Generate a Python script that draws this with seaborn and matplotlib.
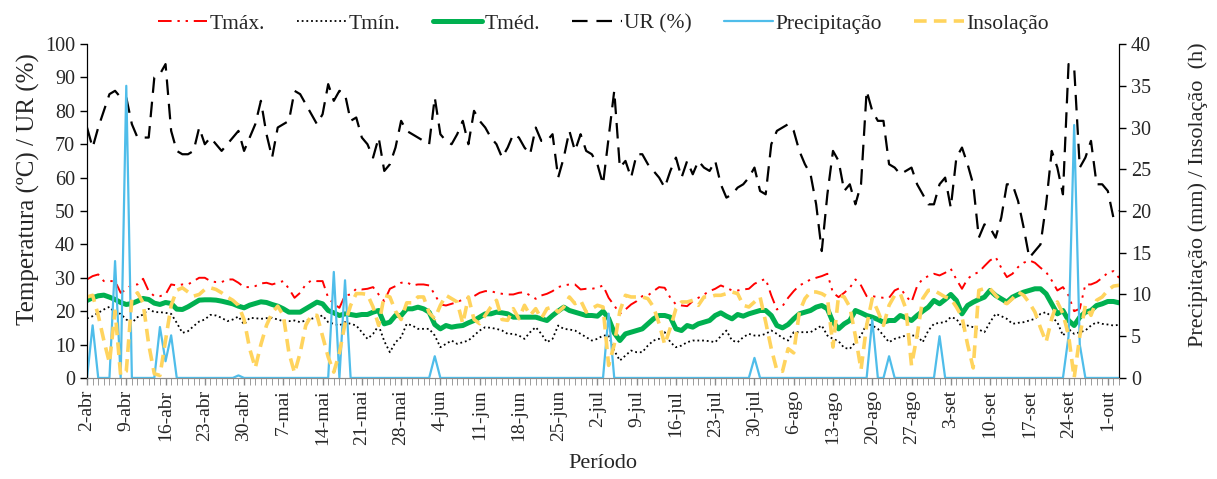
import numpy as np
import pandas as pd
import seaborn as sns
import matplotlib.pyplot as plt

# rótulos do eixo x (um a cada 7 dias, a partir de 2-abr)
tick_labels = ["2-abr", "9-abr", "16-abr", "23-abr", "30-abr", "7-mai", "14-mai",
               "21-mai", "28-mai", "4-jun", "11-jun", "18-jun", "25-jun", "2-jul",
               "9-jul", "16-jul", "23-jul", "30-jul", "6-ago", "13-ago", "20-ago",
               "27-ago", "3-set", "10-set", "17-set", "24-set", "1-out"]

# valores diários (10 por linha, 2-abr a 3-out)
tmax = [29.5, 30.5, 31, 29, 29, 29, 25.5, 26.5, 28, 28,
        29.7, 26, 24.5, 24.5, 25, 28, 27.7, 28, 28, 29,
        30, 30, 29, 28.7, 28.7, 29.5, 29.5, 28.5, 27.2, 27.2,
        27.5, 28.3, 28.5, 28, 28.5, 29, 26.7, 24, 25.5, 28,
        29.2, 29, 29, 24, 22.2, 21, 24.7, 25, 26.7, 26.5,
        26.7, 27.2, 25, 23, 26.7, 27.5, 28.5, 28.7, 27.7, 28,
        28, 27.7, 25, 22, 21.7, 22.2, 22.7, 23.5, 24, 24.5,
        25.5, 26, 26, 25.5, 25.2, 25, 25, 25.5, 25.7, 24.7,
        23.7, 24.7, 25.2, 26, 27.2, 27.7, 28, 28, 26.5, 26.7,
        26.7, 27, 27.7, 24, 21.7, 19.2, 20.5, 22, 23, 24.5,
        24.7, 26, 27.2, 27, 24, 22, 21.7, 21.5, 23, 24,
        25, 26, 26.7, 27.7, 27, 26.2, 26.2, 26.5, 26.7, 28.2,
        29, 29.7, 24.7, 20.5, 21.5, 24, 26, 27.7, 28.5, 29.5,
        30, 30.5, 31.2, 25.5, 24.2, 25.5, 27, 29.5, 27.7, 24.5,
        24.5, 24.2, 24, 24, 26.2, 27, 24.5, 22.7, 27.5, 29.7,
        30.5, 31.2, 30.7, 31.5, 32.7, 29.5, 26.7, 29.7, 31, 31.7,
        33.5, 35.2, 36.2, 33, 30.2, 31.2, 33.2, 34.5, 35.2, 34.5,
        33, 31.7, 29.2, 26.2, 27.2, 24.7, 20, 20.7, 28, 28,
        28.7, 30, 31.5, 32, 30]

tmin = [17.8, 18.5, 19.5, 20.5, 21.3, 19.5, 19.2, 17.5, 16.5, 18.2,
        19, 20.7, 19.7, 19.7, 19.5, 19.2, 16.5, 13.5, 14, 15.5,
        16.9, 17.5, 18.9, 18.7, 18, 17, 17.5, 18.4, 16, 18,
        17.9, 17.7, 17.9, 18, 17.5, 17, 17, 17.2, 16.7, 17.2,
        17.7, 18.2, 18.7, 16.7, 16.2, 15.7, 16.7, 16.2, 15.7, 13.7,
        11.7, 13.2, 15.7, 11, 7.7, 10.7, 12.2, 16.2, 15.7, 14.7,
        14.7, 14.7, 12.7, 9.2, 10.2, 11.2, 10.2, 10.7, 11.2, 12.7,
        14.2, 15.2, 15, 14.7, 14.2, 13.2, 13.2, 12.7, 11.7, 13.7,
        15.2, 13.2, 10.7, 11.7, 15.7, 14.7, 14.5, 14.2, 13.2, 12.2,
        11.2, 11.7, 12.7, 12.7, 8.2, 5.2, 6.7, 8.2, 7.7, 7.7,
        9.7, 11.2, 11.7, 13.7, 10.7, 9.2, 9.7, 10.7, 11.2, 11.2,
        11.2, 11, 10.7, 12.5, 14.2, 11.2, 10.7, 12.2, 13.2, 12.7,
        12.7, 13.2, 14.2, 13.2, 12, 11.2, 13.7, 13.7, 13.7, 13.7,
        14.7, 15.7, 12.7, 11.7, 11, 9, 8.7, 10.7, 12.7, 16.2,
        15.7, 14.7, 12.7, 10.7, 11.7, 12.2, 12.7, 12.7, 12.7, 10.7,
        14.2, 16.2, 16.5, 16.7, 18.2, 17.7, 15.2, 15.7, 15.2, 14.5,
        13.7, 16.7, 19.2, 18.5, 17.7, 16.2, 16.5, 16.7, 17.2, 17.7,
        19.2, 19.7, 18.2, 16.7, 12.7, 14.7, 13.2, 13.7, 14.2, 15.7,
        16.7, 16.2, 16, 15.7, 15.9]

tmed = [23.2, 24, 24.6, 24.8, 24.2, 23.5, 22.6, 22, 22.3, 23,
        23.8, 23.5, 22.4, 22, 22.6, 22.3, 20.6, 20.5, 21.3, 22.3,
        23.3, 23.4, 23.4, 23.3, 23, 22.6, 22.2, 21.5, 21, 21.8,
        22.3, 22.8, 22.6, 22, 21.5, 20.7, 19.7, 19.7, 19.7, 20.7,
        21.7, 22.7, 22.2, 20.2, 19.5, 18.7, 19.2, 19, 18.7, 19,
        19, 19.7, 20.2, 16.2, 16.7, 18.7, 18.7, 20.7, 20.7, 21.2,
        20.7, 19.7, 16, 14.7, 15.7, 15.2, 15.5, 15.7, 16.5, 17.2,
        18.2, 19.2, 19.2, 19.7, 19.5, 19.2, 18.2, 18.2, 18.2, 18.2,
        18.2, 17.7, 17.2, 18.7, 20, 21.2, 20.2, 19.7, 19.2, 18.7,
        18.7, 18.5, 20, 17.8, 13.5, 11.2, 13.2, 13.7, 14.2, 14.7,
        16.2, 17.7, 18.7, 18.7, 18.2, 14.7, 14.2, 15.7, 15.2, 16.2,
        16.7, 17.2, 18.7, 19.5, 18.5, 17.7, 19, 18.5, 19.2, 19.7,
        20.2, 20.2, 18.7, 15.7, 15, 16, 17.7, 19.2, 19.7, 20.2,
        21.2, 21.7, 20.7, 16.7, 14.7, 16.2, 17.2, 20.2, 19.5, 18.7,
        18.2, 17.5, 16.7, 17.2, 17.2, 18.7, 18, 17.2, 18.7, 20,
        21.2, 23.2, 22.2, 23.5, 25, 23.2, 19.2, 21.7, 22.7, 23.5,
        24.2, 26.2, 24.7, 23.7, 22.7, 24.2, 25, 25.7, 26.2, 26.7,
        26.7, 25.2, 22.2, 19.2, 20.2, 17.2, 15.7, 18.2, 19.7, 20.2,
        21.7, 22.2, 22.9, 22.9, 22.5]

ur = [75, 69, 75, 80, 85, 86, 84, 84, 76, 72,
      72, 72, 90, 91, 94, 74, 68, 67, 67, 68,
      75, 70, 72, 70, 68, 70, 72, 74, 68, 72,
      76, 83, 73, 66, 75, 76, 77, 86, 85, 82,
      79, 76, 79, 88, 83, 86, 85, 77, 78, 72,
      70, 66, 72, 62, 64, 69, 77, 74, 73, 72,
      71, 70, 84, 73, 71, 70, 73, 77, 70, 80,
      77, 75, 72, 70, 66, 69, 73, 72, 69, 67,
      75, 71, 71, 73, 60, 66, 74, 68, 73, 68,
      67, 64, 58, 72, 86, 63, 65, 60, 67, 67,
      64, 62, 60, 57, 62, 66, 60, 65, 61, 65,
      63, 62, 65, 58, 54, 55, 57, 58, 60, 63,
      56, 55, 70, 74, 75, 76, 74, 68, 64, 61,
      52, 38, 55, 68, 65, 56, 58, 52, 58, 86,
      80, 77, 77, 64, 63, 61, 62, 63, 58, 55,
      52, 52, 58, 60, 51, 66, 69, 64, 58, 42,
      46, 45, 42, 48, 58, 58, 53, 45, 36, 38,
      40, 52, 68, 63, 55, 94, 93, 63, 66, 71,
      58, 58, 56, 48, 50]

precip = [0, 6.3, 0, 0, 0, 14, 0, 35, 0, 0,
          0, 0, 0, 6.1, 2, 5.1, 0, 0, 0, 0,
          0, 0, 0, 0, 0, 0, 0, 0.3, 0, 0,
          0, 0, 0, 0, 0, 0, 0, 0, 0, 0,
          0, 0, 0, 0, 12.7, 0, 11.7, 0, 0, 0,
          0, 0, 0, 0, 0, 0, 0, 0, 0, 0,
          0, 0, 2.6, 0, 0, 0, 0, 0, 0, 0,
          0, 0, 0, 0, 0, 0, 0, 0, 0, 0,
          0, 0, 0, 0, 0, 0, 0, 0, 0, 0,
          0, 0, 0, 7.7, 0, 0, 0, 0, 0, 0,
          0, 0, 0, 0, 0, 0, 0, 0, 0, 0,
          0, 0, 0, 0, 0, 0, 0, 0, 0, 2.4,
          0, 0, 0, 0, 0, 0, 0, 0, 0, 0,
          0, 0, 0, 0, 0, 0, 0, 0, 0, 0,
          7, 0, 0, 2.6, 0, 0, 0, 0, 0, 0,
          0, 0, 5, 0, 0, 0, 0, 0, 0, 0,
          0, 0, 0, 0, 0, 0, 0, 0, 0, 0,
          0, 0, 0, 0, 0, 5, 30.3, 4, 0, 0,
          0, 0, 0, 0, 0]

insol = [9.7, 9.9, 7.5, 4.5, 1.8, 8, 0.3, 0.8, 9.5, 10.2,
         9, 4, 0.5, 0.3, 4.5, 8.7, 10.5, 10.8, 10.3, 9.8,
         10, 10.6, 10.8, 10.6, 10.2, 9.7, 9.3, 8.7, 7, 3.5,
         1.2, 4, 6.3, 7.8, 8.6, 7.5, 3, 0.6, 3, 6.3,
         7.5, 7.5, 5, 2.5, 0.7, 3, 6.5, 8.7, 10.1, 10.1,
         10, 8.5, 6.3, 9.9, 9.7, 8, 7, 9, 9, 9.7,
         9.7, 7.8, 7.1, 8.7, 9.9, 9.5, 9.1, 6.5, 9.7, 7,
         6.5, 7.5, 8.5, 9.3, 7, 6.9, 8.3, 7.1, 8.7, 7.5,
         8.3, 7.1, 8.3, 8.5, 7.9, 8.5, 9.7, 8.9, 9.3, 7.9,
         8.3, 8.7, 8.5, 1.5, 4, 8, 9.9, 9.7, 9.7, 9.7,
         9.5, 8.5, 6.5, 4, 6, 8.3, 9.1, 9.1, 9.3, 8.7,
         9.7, 9.7, 9.9, 9.9, 10.1, 10.3, 10.1, 8.7, 8.5, 9.1,
         9.7, 6.7, 3.5, 0.9, 0.8, 3.5, 3, 7.9, 9.5, 10.3,
         10.3, 10.1, 9.7, 3.7, 9.9, 9.7, 8.5, 5, 1, 6.3,
         9.5, 8, 6.3, 8.7, 9.9, 10.1, 8.3, 1.5, 5.1, 9.5,
         10.5, 10.5, 10.1, 9.7, 9.5, 8.5, 7.3, 4, 1.2, 10.5,
         10.7, 10.7, 9.9, 9.2, 8.9, 9.5, 10.3, 9.9, 9, 7.9,
         6, 4.3, 7.1, 9.1, 7.7, 5.1, 0, 5, 8.7, 7.5,
         9.3, 9.7, 10.5, 11, 11.1]

dias = np.arange(len(ur))
df = pd.DataFrame({"dia": dias, "tmax": tmax, "tmin": tmin, "tmed": tmed,
                   "ur": ur, "precip": precip, "insol": insol})

sns.set_style("ticks")
plt.rcParams["font.family"] = ["Liberation Serif", "DejaVu Serif"]

fig, ax = plt.subplots(figsize=(12.17, 4.79), dpi=100)
fig.subplots_adjust(left=0.0715, right=0.9195, top=0.908, bottom=0.211)
ax2 = ax.twinx()

sns.lineplot(data=df, x="dia", y="tmax", ax=ax, color="#FF0000", lw=1.4,
             linestyle=(0, (7, 3, 1.2, 3, 1.2, 3)), label="Tmáx.", legend=False)
sns.lineplot(data=df, x="dia", y="tmin", ax=ax, color="black", lw=1.3,
             linestyle=(0, (1, 1.6)), label="Tmín.", legend=False)
sns.lineplot(data=df, x="dia", y="tmed", ax=ax, color="#00B050", lw=3.6,
             label="Tméd.", legend=False)
sns.lineplot(data=df, x="dia", y="ur", ax=ax, color="black", lw=1.6,
             linestyle=(0, (7, 4)), label="UR (%)", legend=False)
sns.lineplot(data=df, x="dia", y="precip", ax=ax2, color="#4FBDEA", lw=1.6,
             label="Precipitação", legend=False)
sns.lineplot(data=df, x="dia", y="insol", ax=ax2, color="#FFD45E", lw=2.6,
             linestyle=(0, (3.5, 2)), label="Insolação", legend=False)

ax.set_xlim(0, len(ur) - 1)
ax.set_ylim(0, 100)
ax2.set_ylim(0, 40)
ax.set_yticks(range(0, 101, 10))
ax2.set_yticks(range(0, 41, 5))
ax.set_xticks(dias[::7])
ax.set_xticklabels(tick_labels, rotation=90)
ax.set_xticks(dias, minor=True)

ax.set_xlabel("Período", fontsize=16, labelpad=6)
ax.set_ylabel("Temperatura (ºC) / UR (%)", fontsize=18, labelpad=4, y=0.565)
ax2.set_ylabel("Precipitação (mm) / Insolação  (h)", fontsize=16, labelpad=27,
               y=0.548)

for a in (ax, ax2):
    a.spines["top"].set_visible(False)
    a.tick_params(labelsize=14.5, length=5, width=1, color="black")
    a.spines["left"].set_color("black")
    a.spines["right"].set_color("black")
    a.spines["bottom"].set_color("#8C8C8C")
ax.tick_params(axis="x", which="both", length=5, color="#8C8C8C", labelsize=14)

h1, l1 = ax.get_legend_handles_labels()
h2, l2 = ax2.get_legend_handles_labels()
fig.legend(h1 + h2, l1 + l2, loc="upper center", ncol=6, frameon=False,
           bbox_to_anchor=(0.4955, 1.012), fontsize=15.5, handlelength=2.3,
           columnspacing=1.5, handletextpad=0.1)

fig.savefig("out.png", dpi=100)
